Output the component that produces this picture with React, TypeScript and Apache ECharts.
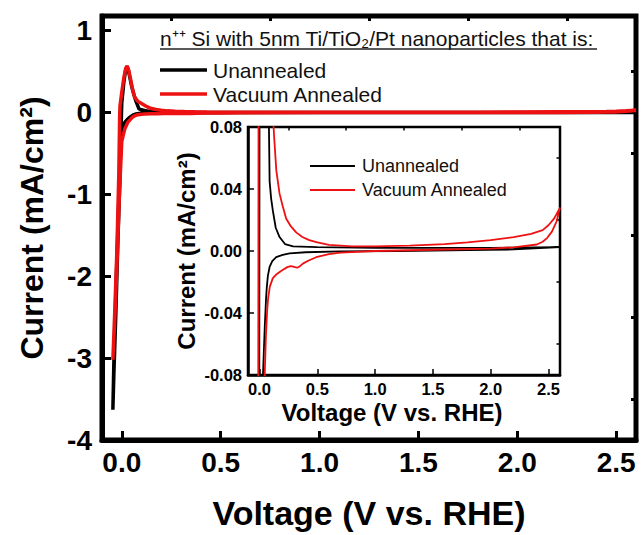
import React, { useEffect, useRef } from "react";
import * as echarts from "echarts";

// ---------- data ----------
const unannealedV: number[] = [
  -0.045, -0.04, -0.03, -0.02, -0.01, -0.005, 0.0, 0.01, 0.018, 0.025, 0.032, 0.04, 0.05, 0.06, 0.07, 0.078,
  0.087, 0.1, 0.115, 0.14, 0.173, 0.22, 0.29, 0.5, 1.0, 1.5, 2.0, 2.6,
  2.2, 1.8, 1.2, 0.7, 0.4, 0.26, 0.2, 0.144, 0.11, 0.087, 0.072, 0.062, 0.056, 0.045, 0.03, 0.015, 0.0,
  -0.01, -0.02, -0.03, -0.04, -0.045,
];
const unannealedI: number[] = [
  -3.63, -3.2, -2.45, -1.6, -0.85, -0.3, 0.12, 0.36, 0.5, 0.56, 0.53, 0.44, 0.32, 0.23, 0.15, 0.1,
  0.045, 0.034, 0.026, 0.015, 0.009, 0.0045, 0.003, 0.0025, 0.002, 0.002, 0.002, 0.0025,
  0.001, 0.0005, 0.0, -0.0003, -0.0008, -0.0015, -0.0025, -0.004, -0.0065, -0.0103, -0.016, -0.024, -0.031, -0.049,
  -0.079, -0.12, -0.2, -0.7, -1.45, -2.2, -3.05, -3.63,
];
const annealedV: number[] = [
  -0.045, -0.035, -0.025, -0.015, -0.011, -0.009, 0.0, 0.01, 0.02, 0.027, 0.035, 0.045, 0.055, 0.065, 0.08,
  0.1, 0.125, 0.145, 0.173, 0.2, 0.23, 0.27, 0.317, 0.37, 0.43, 0.5, 0.6, 0.8, 1.0, 1.3, 1.6, 1.8, 2.0, 2.2,
  2.35, 2.45, 2.5, 2.55, 2.6,
  2.57, 2.53, 2.49, 2.45, 2.4, 2.2, 2.0, 1.5, 1.0, 0.7, 0.6, 0.49, 0.43, 0.378, 0.35, 0.325, 0.3, 0.27, 0.24, 0.21, 0.18,
  0.15, 0.115, 0.089, 0.075, 0.066, 0.055, 0.045, 0.03, 0.015, 0.0, -0.012, -0.025, -0.035, -0.045,
];
const annealedI: number[] = [
  -3.02, -2.4, -1.7, -0.75, -0.08, 0.08, 0.25, 0.42, 0.54, 0.57, 0.52, 0.4, 0.28, 0.19, 0.14,
  0.11, 0.075, 0.052, 0.037, 0.029, 0.021, 0.016, 0.012, 0.009, 0.007, 0.0055, 0.004, 0.003, 0.003, 0.0035,
  0.0045, 0.0055, 0.007, 0.009, 0.011, 0.0135, 0.0166, 0.021, 0.028,
  0.019, 0.0125, 0.0085, 0.006, 0.0042, 0.0024, 0.0015, 0.0008, 0.0, -0.001, -0.002, -0.004, -0.006, -0.008, -0.0098,
  -0.0108, -0.0102, -0.0098, -0.0104, -0.0118, -0.0132, -0.0148, -0.0175, -0.023, -0.03, -0.038, -0.055, -0.079,
  -0.12, -0.2, -0.35, -1.0, -1.9, -2.5, -3.02,
];

const seriesNames: string[] = ["Unannealed", "Vacuum Annealed"];
const mainXTicks: number[] = [0, 0.5, 1.0, 1.5, 2.0, 2.5];
const mainXMinor: number[] = [0.25, 0.75, 1.25, 1.75, 2.25];
const mainYTicks: number[] = [-4, -3, -2, -1, 0, 1];
const mainYMinor: number[] = [-3.5, -2.5, -1.5, -0.5, 0.5];
const insetXTicks: number[] = [0, 0.5, 1.0, 1.5, 2.0, 2.5];
const insetXMinor: number[] = [0.25, 0.75, 1.25, 1.75, 2.25];
const insetYTicks: number[] = [-0.08, -0.04, 0, 0.04, 0.08];
const insetYMinor: number[] = [-0.06, -0.02, 0.02, 0.06];
const headerText = "n\u207A\u207A Si with 5nm Ti/TiO\u2082/Pt nanoparticles that is:";

const FONT = '"Liberation Sans", Arial, sans-serif';
const RED = "#ee1111";
const BLACK = "#000000";

function zip(v: number[], i: number[]): [number, number][] {
  return v.map((x, k) => [x, i[k]]);
}

export default function App() {
  const ref = useRef<HTMLDivElement>(null);
  useEffect(() => {
    if (!ref.current) return;
    const chart = echarts.init(ref.current, null, { renderer: "svg" });

    const majorAxis = (
      gridIndex: number, min: number, max: number, ticks: number[], dec: number,
      fontSize: number, margin: number, tickLen: number, lineW: number, extra: any
    ) => ({
      type: "value", gridIndex, min, max,
      axisLine: { show: true, onZero: false, lineStyle: { color: BLACK, width: lineW } },
      axisTick: { show: true, inside: true, length: tickLen, customValues: ticks, lineStyle: { color: BLACK, width: lineW * 0.6 } },
      axisLabel: {
        show: true, customValues: ticks, margin, color: BLACK, fontSize, fontWeight: "bold", fontFamily: FONT,
        formatter: (v: number) => v.toFixed(dec),
      },
      splitLine: { show: false },
      ...extra,
    });
    const minorAxis = (gridIndex: number, min: number, max: number, ticks: number[], tickLen: number, w: number) => ({
      type: "value", gridIndex, min, max,
      axisLine: { show: false, onZero: false },
      axisTick: { show: true, inside: true, length: tickLen, customValues: ticks, lineStyle: { color: BLACK, width: w } },
      axisLabel: { show: false },
      splitLine: { show: false },
    });

    const option: any = {
      animation: false,
      backgroundColor: "#ffffff",
      grid: [
        { left: 102, top: 16, width: 534, height: 425, show: true, borderColor: BLACK, borderWidth: 5, backgroundColor: "transparent" },
        { left: 248, top: 127, width: 312, height: 248, show: true, borderColor: BLACK, borderWidth: 2.5, backgroundColor: "#ffffff" },
      ],
      xAxis: [
        majorAxis(0, -0.1, 2.6, mainXTicks, 1, 28, 8, 9, 5, {
          name: "Voltage (V vs. RHE)", nameLocation: "middle", nameGap: 56,
          nameTextStyle: { fontSize: 34, fontWeight: "bold", fontFamily: FONT, color: BLACK },
        }),
        minorAxis(0, -0.1, 2.6, mainXMinor, 5, 3),
        majorAxis(1, -0.1, 2.6, insetXTicks, 1, 16.5, 5, 6, 2.5, {
          name: "Voltage (V vs. RHE)", nameLocation: "middle", nameGap: 25,
          nameTextStyle: { fontSize: 24, fontWeight: "bold", fontFamily: FONT, color: BLACK, padding: [0, 24, 0, 0] },
        }),
        minorAxis(1, -0.1, 2.6, insetXMinor, 3.5, 1.5),
      ],
      yAxis: [
        majorAxis(0, -4, 1.18, mainYTicks, 0, 28, 10, 9, 5, {
          name: "Current (mA/cm\u00B2)", nameLocation: "middle", nameGap: 54, nameRotate: 90,
          nameTextStyle: { fontSize: 32, fontWeight: "bold", fontFamily: FONT, color: BLACK },
        }),
        minorAxis(0, -4, 1.18, mainYMinor, 5, 3),
        majorAxis(1, -0.08, 0.08, insetYTicks, 2, 16.5, 6, 6, 2.5, {
          name: "Current (mA/cm\u00B2)", nameLocation: "middle", nameGap: 50, nameRotate: 90,
          nameTextStyle: { fontSize: 24, fontWeight: "bold", fontFamily: FONT, color: BLACK },
        }),
        minorAxis(1, -0.08, 0.08, insetYMinor, 3.5, 1.5),
      ],
      series: [
        { name: seriesNames[0], type: "line", xAxisIndex: 0, yAxisIndex: 0, data: zip(unannealedV, unannealedI), showSymbol: false, symbol: "none", lineStyle: { color: BLACK, width: 3.5 }, clip: true },
        { name: seriesNames[1], type: "line", xAxisIndex: 0, yAxisIndex: 0, data: zip(annealedV, annealedI), showSymbol: false, symbol: "none", lineStyle: { color: RED, width: 3.5 }, clip: true },
        { name: seriesNames[0], type: "line", xAxisIndex: 2, yAxisIndex: 2, data: zip(unannealedV, unannealedI), showSymbol: false, symbol: "none", lineStyle: { color: BLACK, width: 1.8 }, clip: true },
        { name: seriesNames[1], type: "line", xAxisIndex: 2, yAxisIndex: 2, data: zip(annealedV, annealedI), showSymbol: false, symbol: "none", lineStyle: { color: RED, width: 1.8 }, clip: true },
      ],
      graphic: [
        { type: "text", x: 160, y: 38, style: { text: headerText, font: `21px ${FONT}`, fill: "#111", textAlign: "left", textVerticalAlign: "middle" } },
        { type: "line", shape: { x1: 160, y1: 49, x2: 597, y2: 49 }, style: { stroke: "#222", lineWidth: 1.3 } },
        { type: "line", shape: { x1: 160, y1: 70, x2: 207, y2: 70 }, style: { stroke: BLACK, lineWidth: 3.5 } },
        { type: "text", x: 213, y: 70, style: { text: seriesNames[0], font: `21px ${FONT}`, fill: "#111", textAlign: "left", textVerticalAlign: "middle" } },
        { type: "line", shape: { x1: 160, y1: 94, x2: 207, y2: 94 }, style: { stroke: RED, lineWidth: 3.5 } },
        { type: "text", x: 213, y: 94, style: { text: seriesNames[1], font: `21px ${FONT}`, fill: "#111", textAlign: "left", textVerticalAlign: "middle" } },
        { type: "line", z: 100, shape: { x1: 310, y1: 166, x2: 355, y2: 166 }, style: { stroke: BLACK, lineWidth: 1.8 } },
        { type: "text", z: 100, x: 362, y: 166, style: { text: seriesNames[0], font: `18px ${FONT}`, fill: "#111", textAlign: "left", textVerticalAlign: "middle" } },
        { type: "line", z: 100, shape: { x1: 310, y1: 190, x2: 355, y2: 190 }, style: { stroke: RED, lineWidth: 1.8 } },
        { type: "text", z: 100, x: 362, y: 190, style: { text: seriesNames[1], font: `18px ${FONT}`, fill: "#111", textAlign: "left", textVerticalAlign: "middle" } },
      ],
    };
    chart.setOption(option);
    return () => chart.dispose();
  }, []);
  return <div ref={ref} style={{ position: "absolute", left: 0, top: 0, width: 642, height: 535 }} />;
}
